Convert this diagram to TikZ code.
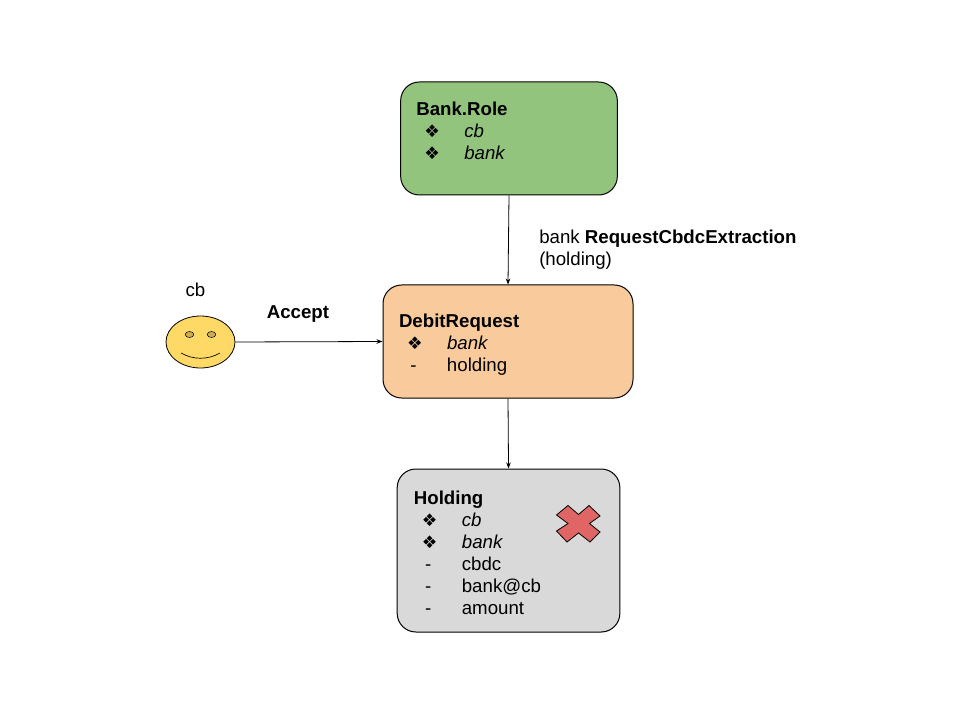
\documentclass[tikz,border=0pt]{standalone}
\usepackage{fontspec}
\setmainfont{Liberation Sans}
\newfontfamily\symfont{DejaVu Sans}
\usepackage{tikz}
\usetikzlibrary{arrows.meta, positioning, shapes.geometric}
\definecolor{rolegreen}{HTML}{93C47D}
\definecolor{debitorange}{HTML}{F9CB9C}
\definecolor{holdgrey}{HTML}{D9D9D9}
\definecolor{crossred}{HTML}{E06666}
\definecolor{faceyellow}{HTML}{FFD966}
\definecolor{eyeyellow}{HTML}{CCAE52}
\newcommand{\keyrow}[1]{\makebox[36pt][l]{\hspace{6pt}{\symfont\fontsize{13}{16.5}\selectfont ❖}}\textit{#1}}
\newcommand{\fieldrow}[1]{\makebox[36pt][l]{\hspace{8.5pt}-}#1}
\newcommand{\headrow}[1]{\rule{0pt}{14.5pt}\textbf{#1}}

\begin{document}
\begin{tikzpicture}[
    x=0.75pt, y=-0.75pt,
    font=\fontsize{14}{16.5}\selectfont,
    >={Stealth[length=1.6mm, width=1.2mm]},
    box/.style={draw=black, line width=0.75pt, fill=#1, rounded corners=14pt, align=left, inner xsep=11pt, inner ysep=0pt},
    lab/.style={align=left, inner sep=0pt},
    flow/.style={->, line width=0.6pt, draw=black},
  ]
  \useasboundingbox (0,0) rectangle (960,720);
  % ---- contract boxes
  \node[box=rolegreen, text width=139pt, inner xsep=11.75pt, minimum height=84.75pt] (role) at (509,138.5) {\textbf{Bank.Role}\\ \keyrow{cb}\\ \keyrow{bank}\\[-4.5pt]\mbox{}};
  \node[box=debitorange, text width=163.5pt, inner xsep=12pt, minimum height=84.75pt, below=66.75pt of role, xshift=-0.75pt] (debit) {\headrow{DebitRequest}\\ \keyrow{bank}\\ \fieldrow{holding}};
  \node[box=holdgrey, text width=142pt, inner xsep=12.5pt, minimum height=122.25pt, below=52.5pt of debit, xshift=0.4pt] (holding) {\rule{0pt}{13.5pt}\textbf{Holding}\\ \keyrow{cb}\\ \keyrow{bank}\\ \fieldrow{cbdc}\\ \fieldrow{bank@cb}\\ \fieldrow{amount}};
  % ---- party on the left
  \node[ellipse, draw=black, line width=0.6pt, fill=faceyellow, minimum width=51.75pt, minimum height=39pt, inner sep=0pt] (face) at (200.5,342) {};
  \node[ellipse, draw=black, line width=0.4pt, fill=eyeyellow, minimum width=6.5pt, minimum height=4.5pt, inner sep=0pt] (eyeleft) at (189.5,334.5) {};
  \node[ellipse, draw=black, line width=0.4pt, fill=eyeyellow, minimum width=6.5pt, minimum height=4.5pt, inner sep=0pt] (eyeright) at (211.5,334.5) {};
  \draw[line width=0.5pt] (181,353) .. controls (193,360) and (208,360) .. (220,353);
  \node (cb) at (195.5,290) {cb};
  \node[font=\fontsize{14}{16.5}\selectfont\bfseries] (accept) at (298,314) {Accept};
  % ---- arrows
  \draw[flow] (role.south) -- (debit.north);
  \draw[flow] (debit.south) -- (holding.north);
  \draw[flow] (face.east) -- (debit.west);
  % ---- choice label
  \node[lab, anchor=west] (choice) at (539,250) {bank \textbf{RequestCbdcExtraction}\\ (holding)};
  % ---- archived mark
  \draw[draw=black, line width=0.6pt, fill=crossred] (556.5,515) -- (568,505.5) -- (578.5,514.5) -- (589,505.5) -- (600,516) -- (589.5,523.5) -- (600,532) -- (590,542) -- (578.5,533) -- (567,542) -- (556.5,531) -- (568,523.5) -- cycle;
\end{tikzpicture}
\end{document}
